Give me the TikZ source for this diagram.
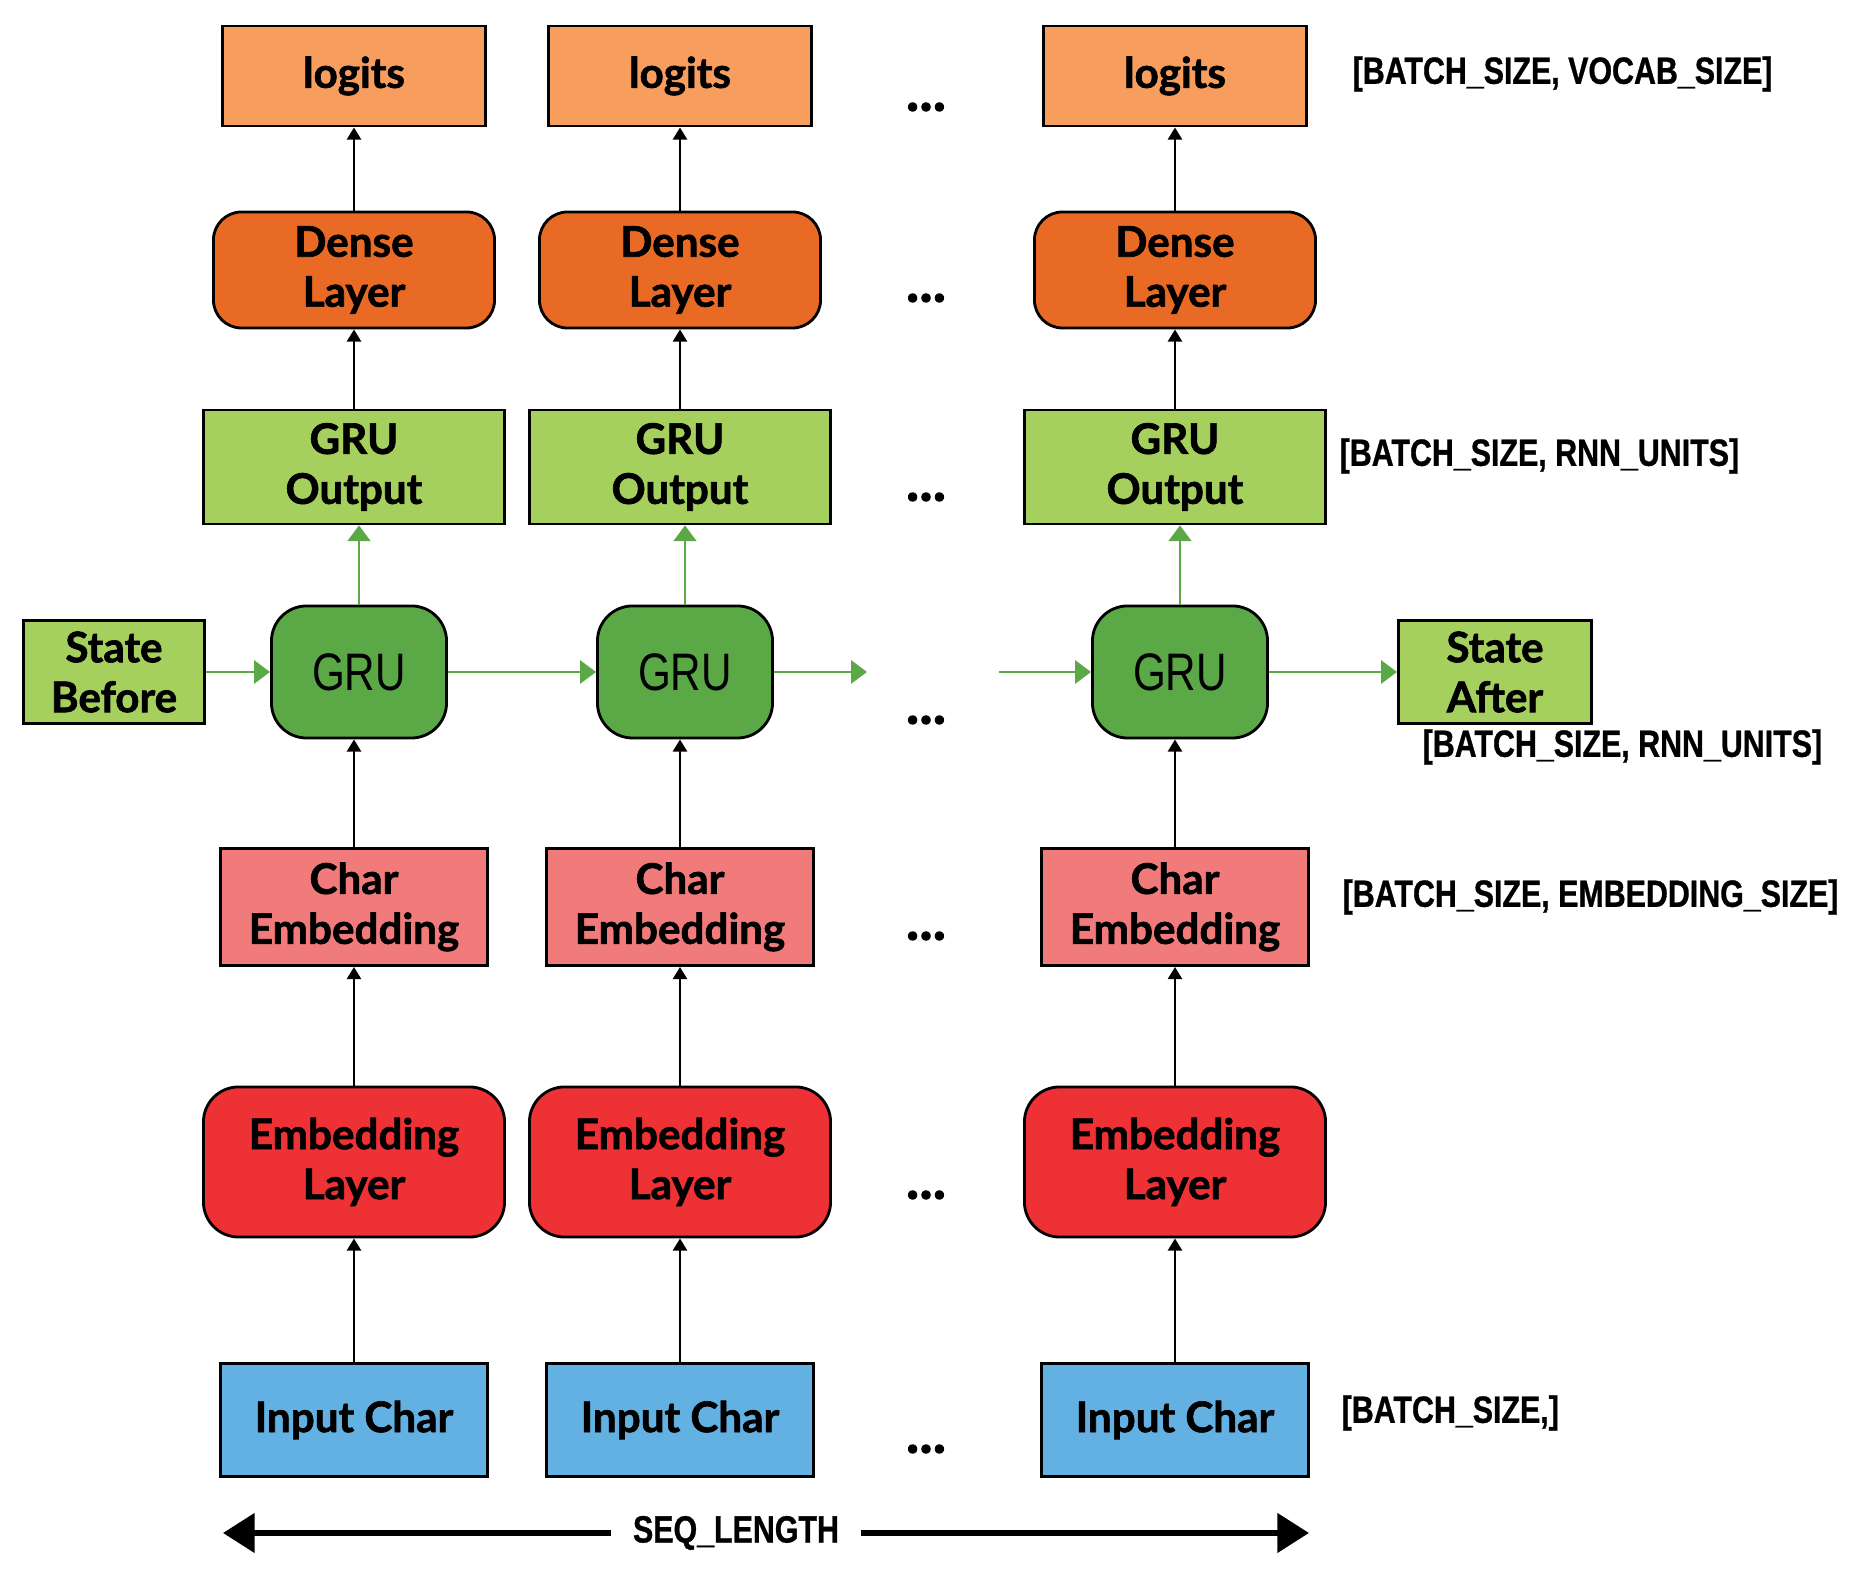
\documentclass[tikz,border=0pt]{standalone}
\usepackage{fontspec}
\setmainfont{Lato}[BoldFeatures={FakeBold=1.5}]
\newfontfamily\grufont{Liberation Sans}[FakeStretch=0.8]
\newfontfamily\dimfont{Liberation Sans}[FakeStretch=0.8, BoldFeatures={FakeBold=0.8}]
\usetikzlibrary{arrows.meta}

\definecolor{logitcol}{HTML}{F79E5F}
\definecolor{densecol}{HTML}{E96A25}
\definecolor{statecol}{HTML}{A6D05E}
\definecolor{grucol}{HTML}{5AA846}
\definecolor{charcol}{HTML}{F17B7B}
\definecolor{embcol}{HTML}{EE3134}
\definecolor{incol}{HTML}{63B1E3}

\begin{document}
\begin{tikzpicture}[x=0.01cm, y=-0.01cm,
  box/.style = {draw, line width=0.8pt, align=center, inner sep=0pt,
    font=\bfseries\fontsize{12}{14.2}\selectfont},
  logitbox/.style = {box, fill=logitcol, minimum width=2.63cm, minimum height=1.0cm},
  densebox/.style = {box, fill=densecol, rounded corners=8pt, minimum width=2.81cm, minimum height=1.16cm},
  outbox/.style = {box, fill=statecol, minimum width=3.01cm, minimum height=1.14cm},
  statebox/.style = {box, fill=statecol, minimum height=1.03cm},
  grubox/.style = {draw, line width=0.8pt, fill=grucol, rounded corners=10pt, minimum width=1.75cm,
    minimum height=1.32cm, font=\grufont\fontsize{15}{15}\selectfont},
  charbox/.style = {box, fill=charcol, minimum width=2.67cm, minimum height=1.17cm},
  embbox/.style = {box, fill=embcol, rounded corners=10pt, minimum width=3.01cm, minimum height=1.5cm},
  inbox/.style = {box, fill=incol, minimum width=2.67cm, minimum height=1.13cm},
  dims/.style = {anchor=west, inner sep=0pt, font=\dimfont\bfseries\fontsize{10.8}{12}\selectfont},
  up/.style = {-{Triangle[length=3.5pt,width=4pt]}, line width=0.8pt},
  gup/.style = {-{Triangle[length=4.5pt,width=6.5pt]}, line width=0.8pt, grucol}]
  \useasboundingbox (0,0) rectangle (1871,1577);

  \foreach \c/\x in {1/354, 2/680, 3/1175} {
    \node[logitbox] (logits\c) at (\x,76) {logits};
    \node[densebox] (dense\c) at (\x,270) {Dense\\Layer};
    \node[outbox] (out\c) at (\x,467) {GRU\\Output};
    \node[grubox] (gru\c) at (\x+5,672) {GRU};
    \node[charbox] (char\c) at (\x,907) {Char\\Embedding};
    \node[embbox] (emb\c) at (\x,1162) {Embedding\\Layer};
    \node[inbox] (in\c) at (\x,1420) {Input Char};

    \draw[up] (in\c) -- (emb\c);
    \draw[up] (emb\c) -- (char\c);
    \draw[up] (char\c) -- (char\c |- gru\c.south);
    \draw[gup] (gru\c) -- (gru\c |- out\c.south);
    \draw[up] (out\c) -- (dense\c);
    \draw[up] (dense\c) -- (logits\c);
  }

  % dots between the columns
  \foreach \y in {107,298,497,720,936,1195,1449}
    \node[font=\bfseries\fontsize{16}{16}\selectfont] (dots\y) at (926,\y) {...};

  % recurrent state
  \node[statebox, minimum width=1.81cm] (before) at (114,672) {State\\Before};
  \node[statebox, minimum width=1.93cm] (after) at (1495,672) {State\\After};
  \coordinate (gout) at (867,672);
  \coordinate (gin) at (999,672);
  \draw[gup] (before) -- (gru1);
  \draw[gup] (gru1) -- (gru2);
  \draw[gup] (gru2) -- (gout);
  \draw[gup] (gin) -- (gru3);
  \draw[gup] (gru3) -- (after);

  % shapes
  \node[dims] (vocab) at (1352,74) {[BATCH\_SIZE, VOCAB\_SIZE]};
  \node[dims] (rnn) at (1339,456) {[BATCH\_SIZE, RNN\_UNITS]};
  \node[dims] (rnnstate) at (1422,747) {[BATCH\_SIZE, RNN\_UNITS]};
  \node[dims] (embsize) at (1342,897) {[BATCH\_SIZE, EMBEDDING\_SIZE]};
  \node[dims] (batch) at (1341,1413) {[BATCH\_SIZE,]};

  \node[dims, anchor=center, inner xsep=6pt] (seq) at (736,1533) {SEQ\_LENGTH};
  \coordinate (seqL) at (223,1533);
  \coordinate (seqR) at (1309,1533);
  \draw[-{Triangle[length=9pt,width=11pt]}, line width=1.6pt] (seq) -- (seqL);
  \draw[-{Triangle[length=9pt,width=11pt]}, line width=1.6pt] (seq) -- (seqR);
\end{tikzpicture}
\end{document}
